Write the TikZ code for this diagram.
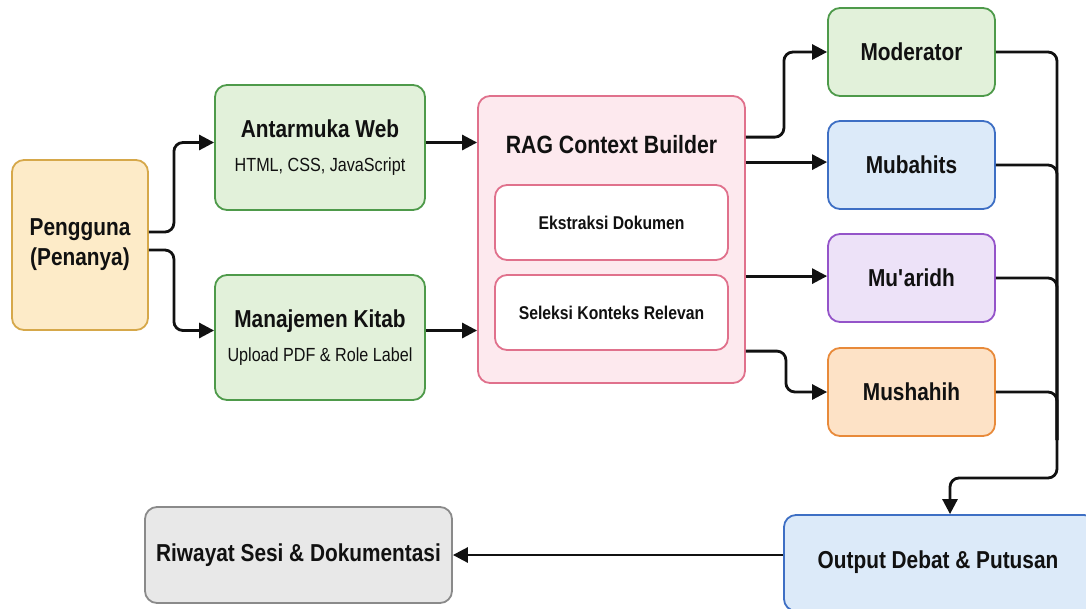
\documentclass[tikz,border=0pt]{standalone}
\usepackage{fontspec}
\setmainfont{Liberation Sans}[FakeStretch=0.85]
\usetikzlibrary{arrows.meta,calc}
\definecolor{orF}{HTML}{FDEBC8}\definecolor{orD}{HTML}{D6A84A}
\definecolor{grF}{HTML}{E2F1DA}\definecolor{grD}{HTML}{4E9A4A}
\definecolor{pkF}{HTML}{FDE9EE}\definecolor{pkD}{HTML}{E0718C}
\definecolor{blF}{HTML}{DCEAF9}\definecolor{blD}{HTML}{3E6FC4}
\definecolor{puF}{HTML}{EDE2F8}\definecolor{puD}{HTML}{9454C9}
\definecolor{o2F}{HTML}{FDE2C6}\definecolor{o2D}{HTML}{E88A3A}
\definecolor{gyF}{HTML}{E8E8E8}\definecolor{gyD}{HTML}{8A8A8A}
\definecolor{txt}{HTML}{111111}
\newcommand\subtxt{\fontsize{19}{22}\selectfont\mdseries}
\tikzset{
  box/.style={draw, line width=1.8pt, rounded corners=12pt, align=center, text=txt,
    inner sep=0pt, font=\fontsize{24.5}{30}\selectfont\bfseries},
  inner/.style={box, fill=white, draw=pkD, minimum width=233pt, minimum height=75pt,
    font=\fontsize{18.5}{22}\selectfont\bfseries},
  agent/.style={box, minimum width=167pt, minimum height=88pt},
  conn/.style={line width=2.8pt, rounded corners=9pt, draw=txt},
  arr/.style={conn, -{Triangle[length=15pt,width=15pt]}}
}
\begin{document}
\begin{tikzpicture}[x=1pt,y=-1pt]
\useasboundingbox[fill=white] (0,0) rectangle (1086,608);
% nodes
\node[box, fill=orF, draw=orD, minimum width=136pt, minimum height=170pt] (P) at (80,245)
  {Pengguna\\(Penanya)};
\node[box, fill=grF, draw=grD, minimum width=210pt, minimum height=125pt] (A) at (320,147.5)
  {Antarmuka Web\\[4pt]{\subtxt HTML, CSS, JavaScript}};
\node[box, fill=grF, draw=grD, minimum width=210pt, minimum height=125pt] (K) at (320,337.5)
  {Manajemen Kitab\\[4pt]{\subtxt Upload PDF \& Role Label}};
\node[box, fill=pkF, draw=pkD, minimum width=267pt, minimum height=287pt] (R) at (611.5,239.5) {};
\node[text=txt, font=\fontsize{25}{30}\selectfont\bfseries] (RT) at (611.5,145) {RAG Context Builder};
\node[inner] (E) at (611.5,222.5) {Ekstraksi Dokumen};
\node[inner] (S) at (611.5,312.5) {Seleksi Konteks Relevan};
\node[agent, fill=grF, draw=grD] (Mod) at (911.5,52) {Moderator};
\node[agent, fill=blF, draw=blD] (Mub) at (911.5,165) {Mubahits};
\node[agent, fill=puF, draw=puD] (Mua) at (911.5,278) {Mu\textquotesingle aridh};
\node[agent, fill=o2F, draw=o2D] (Mus) at (911.5,392) {Mushahih};
\node[box, fill=blF, draw=blD, minimum width=312pt, minimum height=96pt] (Out) at (940,563) {};
\node[text=txt, font=\fontsize{24.5}{30}\selectfont\bfseries] (OutT) at (938,562) {Output Debat \& Putusan};
\node[box, fill=gyF, draw=gyD, minimum width=307pt, minimum height=96pt] (Riw) at (298.5,555)
  {Riwayat Sesi \& Dokumentasi};
\coordinate (busbot) at (1057,478);
\coordinate (busmid) at (1057,440);
\coordinate (r1) at ($(R.north east)+(0,42)$);
\coordinate (r2) at ($(R.north east)+(0,67)$);
\coordinate (r3) at ($(R.north east)+(0,181)$);
\coordinate (r4) at ($(R.north east)+(0,256)$);
% connectors
\draw[arr] ([yshift=13pt]P.east) -- ++(25,0) |- ([yshift=5pt]A.west);
\draw[arr] ([yshift=-5pt]P.east) -- ++(25,0) |- ([yshift=7pt]K.west);
\draw[arr] ([yshift=5pt]A.east) -- ([yshift=5pt]A.east -| R.west);
\draw[arr] ([yshift=7pt]K.east) -- ([yshift=7pt]K.east -| R.west);
\draw[arr] (r1) -- ++(38,0) |- (Mod.west);
\draw[arr] (r2) -- (r2 -| Mub.west);
\draw[arr] (r3) -- (r3 -| Mua.west);
\draw[arr] (r4) -- ++(40,0) |- (Mus.west);
\draw[arr] (Mod.east) -| (busbot) -| ([xshift=10pt]Out.north);
\draw[conn] (Mub.east) -| (busmid);
\draw[conn] (Mua.east) -| (busmid);
\draw[conn] (Mus.east) -| (busmid);
\draw[arr] (Out.west |- Riw.east) -- (Riw.east);
\end{tikzpicture}
\end{document}
